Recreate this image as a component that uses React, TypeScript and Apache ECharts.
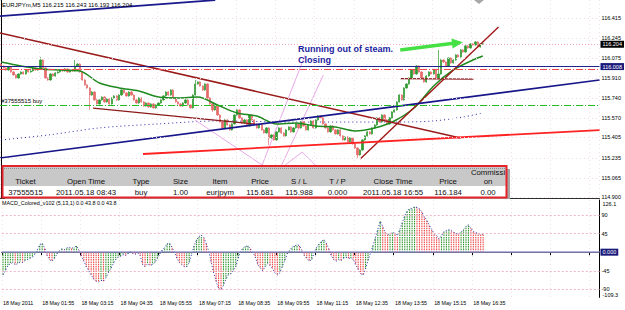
import React, { useEffect, useRef } from "react";
import * as echarts from "echarts";

// ---------- data ----------
const titleQuote = ["EURJPYm,M5", "116.215", "116.243", "116.193", "116.204"];
const macdTitle = "MACD_Colored_v102 (5,13,1) 0.0 43.8 0.0 43.8";
const timeLabels = [
  "18 May 2011", "18 May 01:55", "18 May 03:15", "18 May 04:35", "18 May 05:55",
  "18 May 07:15", "18 May 08:35", "18 May 09:55", "18 May 11:15", "18 May 12:35",
  "18 May 13:55", "18 May 15:15", "18 May 16:35",
];
const totalSlots = 244;
const firstOpen = 116.032;
const closes = [
  116.015, 115.998, 115.981, 116.007, 115.964, 115.939, 115.913, 115.947,
  115.964, 115.947, 115.981, 115.964, 115.973, 115.998, 115.981, 115.990,
  116.066, 115.998, 115.913, 115.896, 115.947, 115.930, 115.956, 115.964,
  115.981, 115.973, 115.990, 115.964, 115.981, 115.973, 116.015, 116.032,
  115.964, 115.896, 115.854, 115.828, 115.768, 115.794, 115.726, 115.692,
  115.726, 115.751, 115.709, 115.734, 115.692, 115.743, 115.760, 115.726,
  115.768, 115.811, 115.786, 115.760, 115.794, 115.768, 115.726, 115.700,
  115.743, 115.709, 115.675, 115.700, 115.666, 115.692, 115.658, 115.683,
  115.700, 115.726, 115.760, 115.794, 115.768, 115.811, 115.743, 115.709,
  115.692, 115.675, 115.700, 115.726, 115.683, 115.658, 115.768, 115.862,
  115.879, 115.845, 115.811, 115.862, 115.743, 115.692, 115.641, 115.675,
  115.598, 115.539, 115.488, 115.556, 115.513, 115.471, 115.522, 115.598,
  115.641, 115.573, 115.530, 115.556, 115.505, 115.598, 115.556, 115.522,
  115.488, 115.513, 115.471, 115.445, 115.488, 115.403, 115.428, 115.386,
  115.454, 115.488, 115.445, 115.420, 115.471, 115.496, 115.454, 115.488,
  115.522, 115.488, 115.539, 115.505, 115.471, 115.513, 115.547, 115.488,
  115.556, 115.590, 115.573, 115.522, 115.488, 115.454, 115.505, 115.471,
  115.437, 115.471, 115.420, 115.386, 115.411, 115.369, 115.403, 115.352,
  115.317, 115.258, 115.300, 115.386, 115.420, 115.454, 115.437, 115.488,
  115.513, 115.573, 115.539, 115.598, 115.556, 115.522, 115.573, 115.624,
  115.641, 115.709, 115.768, 115.726, 115.828, 115.862, 115.913, 115.981,
  115.947, 116.015, 115.964, 115.913, 115.879, 115.930, 115.964, 115.947,
  115.981, 115.913, 115.947, 116.066, 116.049, 116.015, 116.083, 116.041,
  116.066, 116.109, 116.092, 116.152, 116.134, 116.186, 116.169, 116.203,
  116.194, 116.220, 116.177, 116.203, 116.204,
];
// [bar index, high, low] for the long wicks
const spikes: [number, number | null, number | null][] = [
  [16, 116.092, null], [30, 116.066, null], [36, null, 115.641], [79, 115.896, null],
  [86, null, 115.624], [109, null, 115.343], [145, null, 115.232], [178, 116.152, null],
];
const wick = 0.006;
const macdValues = [
  -55, -45, -32, -28, -25, -30, -28, -24,
  -25, -20, -18, -15, -12, -5, 5, 18,
  22, 10, -8, -18, -22, -15, -5, 3,
  8, 6, 10, 12, 9, 12, 15, 5,
  -10, -22, -35, -45, -55, -65, -70, -72,
  -68, -70, -62, -50, -40, -28, -18, -12,
  -10, -6, -8, -4, 2, -3, -5, -2,
  -8, -30, -35, -28, -32, -30, -25, -15,
  -5, 5, 12, 20, 22, 12, 0, -15,
  -25, -30, -35, -35, -25, -5, 15, 30,
  38, 41, 35, 20, 2, -25, -50, -70,
  -88, -91, -80, -65, -55, -52, -45, -35,
  -15, 2, 10, 14, 15, 8, 0, -12,
  -30, -38, -45, -35, -28, -32, -40, -50,
  -55, -50, -35, -20, -5, 5, 12, 15,
  18, 16, 5, -8, -15, -22, -18, -2,
  12, 20, 26, 30, 22, 8, -8, -18,
  -22, -18, -20, -15, -12, -15, -14, -18,
  -30, -42, -52, -55, -40, -20, -2, 15,
  35, 55, 75, 62, 48, 42, 45, 47,
  46, 40, 55, 72, 88, 100, 105, 106,
  110, 108, 105, 97, 85, 78, 65, 55,
  45, 40, 32, 40, 50, 52, 55, 52,
  48, 45, 44, 48, 55, 62, 66, 58,
  50, 47, 45, 44, 43.8,
];
const maFast = [
  [0, 116.049], [8, 116.015], [16, 115.99], [24, 115.981], [32, 115.973], [40, 115.87],
  [48, 115.828], [56, 115.802], [64, 115.751], [72, 115.743], [80, 115.751], [88, 115.683],
  [96, 115.615], [104, 115.589], [112, 115.521], [120, 115.53], [128, 115.504], [136, 115.496],
  [144, 115.462], [152, 115.487], [160, 115.547], [168, 115.657], [176, 115.845], [184, 115.981],
  [192, 116.066], [196, 116.1],
];
const maSlow = [
  [0, 115.385], [20, 115.43], [40, 115.488], [64, 115.522], [88, 115.547], [120, 115.538],
  [160, 115.538], [176, 115.547], [188, 115.581], [196, 115.615],
];
const priceTicks = [116.415, 116.245, 116.075, 115.91, 115.74, 115.57, 115.405, 115.235, 115.065, 114.9];
const priceMin = 114.8915;
const priceMax = 116.5766;
const macdTicks = [90, 45, -45, -90];
const macdMin = -109.3;
const macdMax = 126.1;
const bidPrice = 116.204;
const levelPrice = 116.008;
const stopLossPrice = 115.988;
const openPrice = 115.681;
const orderLabel = "#37555515 buy";

const navyTopLine = [[-0.5, 116.44], [87.1, 116.576]];
const maroonDownLine = [[-0.5, 116.296], [186.9, 115.402]];
const maroonChannelLine = [[37.4, 115.657], [103.4, 115.521]];
const maroonUpLine = [[146.1, 115.223], [202.4, 116.347]];
const maroonShortLine = [[162.4, 115.908], [192.2, 115.904]];
const navyRisingLine = [[-0.5, 115.232], [243.5, 115.896]];
const redSupportLine = [[57.7, 115.266], [243.5, 115.47]];
const pinkLines = [
  [[123.7, 116.108], [106.2, 115.172]],
  [[131.1, 115.938], [113.6, 115.147]],
  [[78.9, 115.555], [106.2, 115.172]],
  [[115.6, 115.172], [122.5, 115.283], [127.8, 115.172]],
];
const arrowLine = [[162.4, 116.151], [185.7, 116.212]];

const noteLines = ["Running out of steam.", "Closing"];
const tableHeaders = ["Ticket", "Open Time", "Type", "Size", "Item", "Price", "S / L", "T / P", "Close Time", "Price", "Commissi\non"];
const tableRow = ["37555515", "2011.05.18 08:43", "buy", "1.00", "eurjpym", "115.681", "115.988", "0.000", "2011.05.18 16:55", "116.184", "0.00"];

// ---------- layout / styles ----------
const FONT = "Liberation Sans, Arial, sans-serif";
const colX = [25.5, 86, 141, 180.5, 220, 260, 299, 337.5, 393, 448, 488];

function buildGraphic(edgeLabels: any[] = []) {
  const graphic: any[] = [
    {
      type: "text", x: 2, y: 1.5, z: 50,
      style: { text: titleQuote.join(" "), fill: "#000", fontSize: 6, fontFamily: FONT, verticalAlign: "top" },
    },
    {
      type: "text", x: 2, y: 200.5, z: 50,
      style: { text: macdTitle, fill: "#000", fontSize: 5.4, fontFamily: FONT, verticalAlign: "top" },
    },
    { type: "polygon", z: 50, shape: { points: [[474, 0], [484, 0], [479, 4]] }, style: { fill: "#a8a8a8" } },
    {
      type: "text", x: 298, y: 44, z: 50,
      style: { text: noteLines[0], fill: "#1c1ca0", fontSize: 9, fontWeight: "bold", fontFamily: FONT, verticalAlign: "top" },
    },
    {
      type: "text", x: 298, y: 55.5, z: 50,
      style: { text: noteLines[1], fill: "#1c1ca0", fontSize: 9, fontWeight: "bold", fontFamily: FONT, verticalAlign: "top" },
    },
    { type: "rect", z: 60, shape: { x: 5, y: 169, width: 505, height: 30 }, style: { fill: "#a6a6a6" } },
    { type: "rect", z: 61, shape: { x: 2.5, y: 166, width: 504, height: 20 }, style: { fill: "#c8c8c8" } },
    { type: "rect", z: 61, shape: { x: 2.5, y: 186, width: 504, height: 11.5 }, style: { fill: "#ffffff" } },
    {
      type: "line", z: 62, shape: { x1: 4, y1: 168.5, x2: 505, y2: 168.5 },
      style: { stroke: "#8e8e8e", lineWidth: 1, lineDash: [1, 1] },
    },
    {
      type: "rect", z: 64, shape: { x: 2.5, y: 166, width: 504, height: 31.5 },
      style: { fill: "none", stroke: "#e3242b", lineWidth: 2 },
    },
    ...edgeLabels,
  ];
  tableHeaders.forEach((h, i) => {
    graphic.push({
      type: "text", x: colX[i], y: h.includes("\n") ? 176.5 : 181, z: 63,
      style: { text: h, fill: "#111", fontSize: 7.8, fontFamily: FONT, align: "center", verticalAlign: "middle", lineHeight: 9 },
    });
  });
  tableRow.forEach((t, i) => {
    graphic.push({
      type: "text", x: colX[i], y: 192, z: 63,
      style: { text: t, fill: "#111", fontSize: 7.8, fontFamily: FONT, align: "center", verticalAlign: "middle" },
    });
  });
  return graphic;
}

function buildOption() {
  const slots = Array.from({ length: totalSlots }, (_, i) => String(i));
  const spikeMap: Record<number, [number | null, number | null]> = {};
  spikes.forEach(([i, h, l]) => (spikeMap[i] = [h, l]));
  const candles = closes.map((c, i) => {
    const o = i === 0 ? firstOpen : closes[i - 1];
    const s = spikeMap[i];
    const h = s && s[0] != null ? s[0] : Math.max(o, c) + wick;
    const l = s && s[1] != null ? s[1] : Math.min(o, c) - wick;
    return [o, c, l, h];
  });

  const tl = (data: number[][], color: string, width: number, z = 4) => ({
    type: "line",
    xAxisIndex: 1,
    yAxisIndex: 0,
    data,
    showSymbol: false,
    silent: true,
    z,
    lineStyle: { color, width },
  });

  const axisLbl = (text: string, extra: any = {}) => ({
    show: true,
    position: "end",
    distance: 2,
    formatter: text,
    color: "#000",
    fontSize: 5.5,
    fontFamily: FONT,
    ...extra,
  });

  const priceMarks: any[] = priceTicks.map((v) => ({
    yAxis: v,
    lineStyle: { color: "#efdbe6", type: [1, 3], width: 1 },
    label: axisLbl(v.toFixed(3)),
  }));
  priceMarks.push(
    {
      yAxis: stopLossPrice,
      lineStyle: { color: "#f04848", type: [7, 2, 1, 2], width: 1 },
      label: { show: false },
    },
    {
      yAxis: openPrice,
      lineStyle: { color: "#22bb22", type: [7, 2, 1, 2], width: 1 },
      label: {
        show: true, position: "insideStartTop", formatter: orderLabel, color: "#000",
        fontSize: 6, fontFamily: FONT, distance: 1,
      },
    },
    {
      yAxis: levelPrice,
      lineStyle: { color: "#22228c", type: "solid", width: 1 },
      label: axisLbl(levelPrice.toFixed(3), { backgroundColor: "#1a1a7a", color: "#fff", padding: [1, 2, 0, 2], distance: 1 }),
    },
    {
      yAxis: bidPrice,
      lineStyle: { color: "#f3a6bd", type: [1, 2], width: 1 },
      label: axisLbl(bidPrice.toFixed(3), { backgroundColor: "#000", color: "#fff", padding: [1, 2, 0, 2], distance: 1 }),
    }
  );

  const macdMarks: any[] = macdTicks.map((v) => ({
    yAxis: v,
    lineStyle: { color: "#efb6c8", type: [2, 2], width: 1 },
    label: axisLbl(String(v)),
  }));
  macdMarks.push({
    yAxis: 0,
    lineStyle: { color: "#9a9ad2", type: "solid", width: 1.5 },
    label: axisLbl("0.000", { backgroundColor: "#1a1a7a", color: "#fff", padding: [1, 2, 0, 2], distance: 1 }),
  });

  const gridLine = { show: true, interval: 15, lineStyle: { color: "#f1e0e8", type: [1, 3], width: 1 } };

  return {
    animation: false,
    backgroundColor: "#ffffff",
    grid: [
      { left: 0, top: 0, width: 599.5, height: 198 },
      { left: 0, top: 200, width: 599.5, height: 97.4 },
    ],
    xAxis: [
      {
        type: "category", gridIndex: 0, data: slots, boundaryGap: true,
        axisLabel: { show: false }, axisTick: { show: false },
        axisLine: { show: true, lineStyle: { color: "#303030", width: 1 } },
        splitLine: gridLine,
      },
      { type: "value", gridIndex: 0, min: -0.5, max: totalSlots - 0.5, show: false },
      {
        type: "category", gridIndex: 1, data: slots, boundaryGap: true,
        axisLine: { show: true, lineStyle: { color: "#000", width: 1 } },
        axisTick: { show: true, interval: 15, length: 3, lineStyle: { color: "#000" } },
        axisLabel: {
          interval: 15, align: "left", margin: 3, fontSize: 5.3, fontFamily: FONT, color: "#000",
          formatter: (_v: string, idx: number) => (idx % 16 === 0 ? timeLabels[idx / 16] ?? "" : ""),
        },
        splitLine: gridLine,
      },
    ],
    yAxis: [
      {
        type: "value", gridIndex: 0, position: "right", min: priceMin, max: priceMax, scale: true,
        axisLabel: { show: false }, splitLine: { show: false }, axisTick: { show: false },
        axisLine: { show: true, lineStyle: { color: "#000", width: 1 } },
      },
      {
        type: "value", gridIndex: 1, position: "right", min: macdMin, max: macdMax,
        axisLabel: { show: false }, splitLine: { show: false }, axisTick: { show: false },
        axisLine: { show: true, lineStyle: { color: "#000", width: 1 } },
      },
    ],
    series: [
      {
        type: "candlestick", xAxisIndex: 0, yAxisIndex: 0, data: candles, barWidth: 1.8, z: 3,
        itemStyle: {
          color: "#2f9a2f", color0: "#e56a6a", borderColor: "#2f9a2f", borderColor0: "#e56a6a", borderWidth: 0.7,
        },
        markLine: { silent: true, symbol: ["none", "none"], animation: false, data: priceMarks },
      },
      {
        type: "line", xAxisIndex: 1, yAxisIndex: 0, data: maSlow, showSymbol: false, silent: true, z: 2, smooth: 0.3,
        lineStyle: { color: "#2626a8", width: 1, type: [1, 3] },
      },
      {
        type: "line", xAxisIndex: 1, yAxisIndex: 0, data: maFast, showSymbol: false, silent: true, z: 4, smooth: 0.3,
        lineStyle: { color: "#1f8a1f", width: 1.5 },
      },
      ...pinkLines.map((p) => tl(p, "#e9a8e9", 1, 2)),
      tl(navyTopLine, "#1a1a8c", 1.7),
      tl(maroonDownLine, "#991b1b", 1.5),
      tl(maroonChannelLine, "#8b1a1a", 1.3),
      tl(maroonUpLine, "#a01818", 1.4),
      tl(maroonShortLine, "#8b1a1a", 1.3),
      tl(navyRisingLine, "#16168a", 1.7),
      tl(redSupportLine, "#ff2222", 1.8),
      {
        type: "line", xAxisIndex: 1, yAxisIndex: 0, silent: true, z: 6, showSymbol: true,
        data: [
          { value: arrowLine[0], symbol: "none" },
          { value: arrowLine[1], symbol: "triangle", symbolSize: [10, 11], symbolRotate: -83 },
        ],
        itemStyle: { color: "#44e044" },
        lineStyle: { color: "#44e044", width: 3.5 },
      },
      {
        type: "custom", xAxisIndex: 2, yAxisIndex: 1, silent: true, z: 3,
        data: macdValues.map((v, i) => [i, v, i === 0 || v >= macdValues[i - 1] ? 1 : 0]),
        encode: { x: 0, y: 1 },
        renderItem: (_p: any, api: any) => {
          const i = api.value(0);
          const v = api.value(1);
          const up = api.value(2);
          const a = api.coord([i, 0]);
          const b = api.coord([i, v]);
          return {
            type: "line",
            shape: { x1: a[0], y1: a[1], x2: b[0], y2: b[1] },
            style: { stroke: up ? "#2f962f" : "#f04848", lineWidth: 1.1, lineDash: [1.5, 0.8] },
          };
        },
      },
      {
        type: "line", xAxisIndex: 2, yAxisIndex: 1, data: macdValues, showSymbol: false, silent: true, z: 4,
        lineStyle: { color: "#2b2bb0", width: 1, type: [1, 2] },
        markLine: { silent: true, symbol: ["none", "none"], animation: false, data: macdMarks },
      },
    ],
    graphic: buildGraphic(),
  };
}

export default function App() {
  const ref = useRef<HTMLDivElement>(null);
  useEffect(() => {
    document.body.style.margin = "0";
    const chart = echarts.init(ref.current!, null, { renderer: "svg" });
    chart.setOption(buildOption() as any);
    // edge labels of the MACD scale, placed through the axis scale
    const yTop = chart.convertToPixel({ yAxisIndex: 1 }, macdMax) as number;
    const yBot = chart.convertToPixel({ yAxisIndex: 1 }, macdMin) as number;
    const xr = chart.convertToPixel({ xAxisIndex: 1 }, totalSlots - 0.5) as number;
    const edge = [
      { v: macdMax, y: yTop + 4 },
      { v: macdMin, y: yBot - 2.5 },
    ].map((e) => ({
      type: "text", x: xr + 3, y: e.y, z: 70,
      style: { text: String(e.v), fill: "#000", fontSize: 5.5, fontFamily: FONT, verticalAlign: "middle" },
    }));
    chart.setOption({ graphic: buildGraphic(edge) } as any, { replaceMerge: ["graphic"] } as any);
    return () => chart.dispose();
  }, []);
  return (
    <div
      ref={ref}
      style={{ width: 625, height: 310, position: "absolute", left: 0, top: 0, background: "#fff" }}
    />
  );
}
